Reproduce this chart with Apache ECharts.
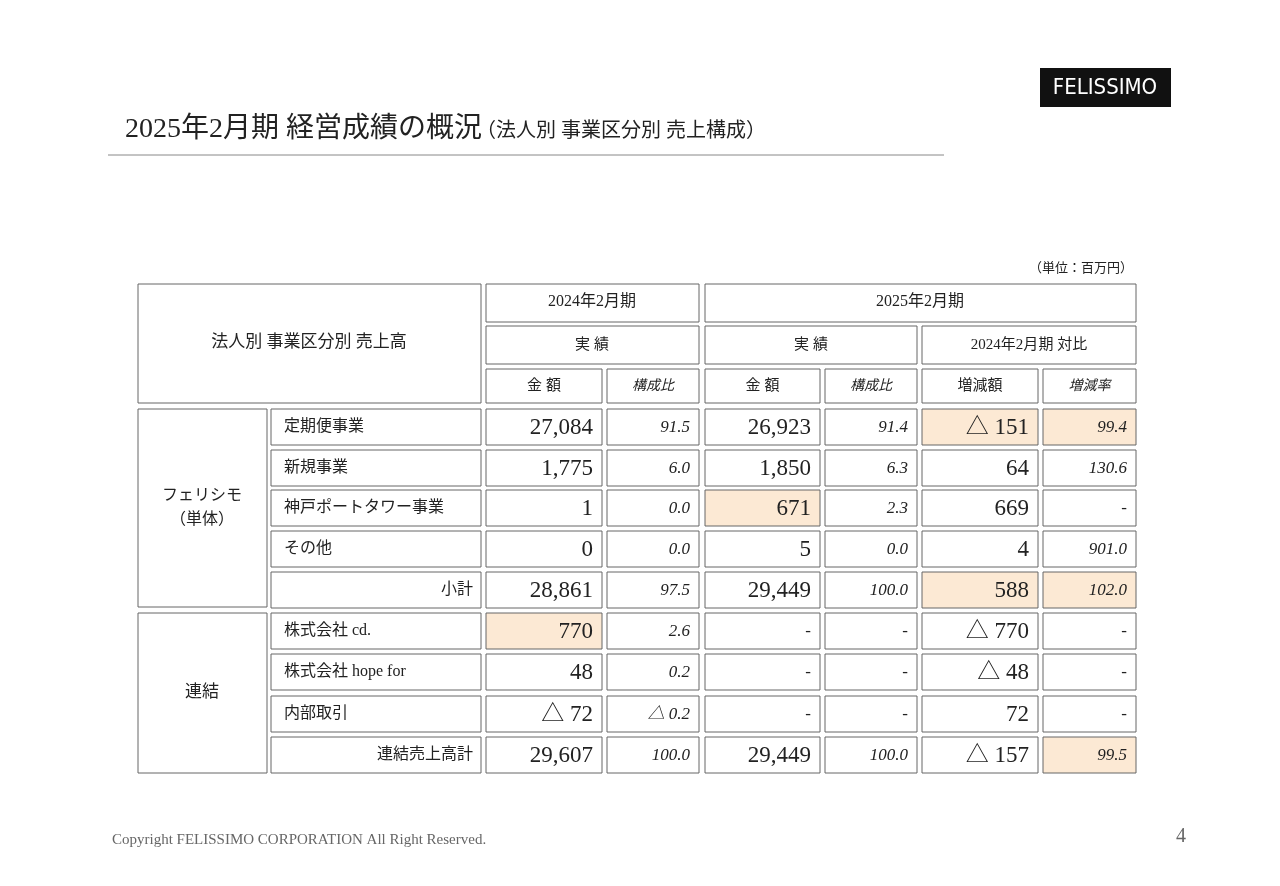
<!DOCTYPE html>
<html lang="ja">
<head>
<meta charset="UTF-8">
<title>経営成績の概況</title>
<script src="https://cdn.jsdelivr.net/npm/echarts@6/dist/echarts.min.js"></script>
<style>html,body{margin:0;padding:0;background:#fff}#main{width:1280px;height:886px}</style>
</head>
<body>
<div id="main"></div>
<script>
// データ
var items = ['定期便事業', '新規事業', '神戸ポートタワー事業', 'その他', '小計', '株式会社 cd.', '株式会社 hope for', '内部取引', '連結売上高計'];
var amt2024 = ['27,084', '1,775', '1', '0', '28,861', '770', '48', '△ 72', '29,607'];
var ratio2024 = ['91.5', '6.0', '0.0', '0.0', '97.5', '2.6', '0.2', '△ 0.2', '100.0'];
var amt2025 = ['26,923', '1,850', '671', '5', '29,449', '-', '-', '-', '29,449'];
var ratio2025 = ['91.4', '6.3', '2.3', '0.0', '100.0', '-', '-', '-', '100.0'];
var diffs = ['△ 151', '64', '669', '4', '588', '△ 770', '△ 48', '72', '△ 157'];
var rates = ['99.4', '130.6', '-', '901.0', '102.0', '-', '-', '-', '99.5'];
// 強調セル [行, 列]
var marked = [[0, 4], [0, 5], [2, 2], [4, 4], [4, 5], [5, 0], [8, 5]];

var serif = '"Liberation Serif","Noto Sans CJK JP",serif';
var cols = [[486, 602], [607, 699], [705, 820], [825, 917], [922, 1038], [1043, 1136]];
var rowTop = [409, 450, 490, 531, 572, 613, 654, 696, 737];
var rowH = 36;
var stroke = '#666', fillMark = '#fce9d4';
var g = [];

function box(x1, y1, x2, y2, fill) {
  g.push({type: 'rect', shape: {x: x1, y: y1, width: x2 - x1, height: y2 - y1},
    style: {fill: fill || '#fff', stroke: stroke, lineWidth: 1}});
}
function txt(x, y, s, size, align, opt) {
  opt = opt || {};
  g.push({type: 'text', x: x, y: y, style: {text: s, fontSize: size, fontFamily: serif,
    fill: opt.color || '#222', align: align || 'center', verticalAlign: 'middle',
    fontStyle: opt.italic ? 'italic' : 'normal', lineHeight: opt.lh}});
}

// タイトル
txt(125, 130, '2025年2月期 経営成績の概況', 28, 'left');
txt(476, 132, '（法人別 事業区分別 売上構成）', 20, 'left');
g.push({type: 'line', shape: {x1: 108, y1: 155, x2: 944, y2: 155}, style: {stroke: '#888', lineWidth: 1}});
g.push({type: 'rect', shape: {x: 1040, y: 68, width: 131, height: 39}, style: {fill: '#111'}});
g.push({type: 'text', x: 1105, y: 88, style: {text: 'FELISSIMO', fontSize: 22, fontFamily: '"DejaVu Sans Condensed",sans-serif', fill: '#fff', align: 'center', verticalAlign: 'middle'}});
txt(1133, 269, '（単位：百万円）', 13, 'right');

// ヘッダー
box(138, 284, 481, 403); txt(309, 343, '法人別 事業区分別 売上高', 17);
box(486, 284, 699, 322); txt(592, 302, '2024年2月期', 16);
box(705, 284, 1136, 322); txt(920, 302, '2025年2月期', 16);
box(486, 326, 699, 364); txt(592, 345, '実 績', 15);
box(705, 326, 917, 364); txt(811, 345, '実 績', 15);
box(922, 326, 1136, 364); txt(1029, 345, '2024年2月期 対比', 15);
var sub = ['金 額', '構成比', '金 額', '構成比', '増減額', '増減率'];
cols.forEach(function (c, i) {
  box(c[0], 369, c[1], 403);
  txt((c[0] + c[1]) / 2, 386, sub[i], i % 2 && i !== 4 ? 14 : 15, 'center', {italic: i === 1 || i === 3 || i === 5});
});

// グループ
box(138, 409, 267, 607); txt(202, 508, 'フェリシモ\n（単体）', 16, 'center', {lh: 24});
box(138, 613, 267, 773); txt(202, 693, '連結', 17);

// データ行
var colData = [amt2024, ratio2024, amt2025, ratio2025, diffs, rates];
items.forEach(function (name, r) {
  var y = rowTop[r], cy = y + rowH / 2;
  box(271, y, 481, y + rowH);
  if (r === 4 || r === 8) txt(473, cy, name, 16, 'right');
  else txt(284, cy, name, 16, 'left');
  colData.forEach(function (arr, c) {
    var hi = marked.some(function (m) { return m[0] === r && m[1] === c; });
    var cc = cols[c];
    box(cc[0], y, cc[1], y + rowH, hi ? fillMark : '#fff');
    var even = c % 2 === 0;
    var size = even ? (arr[r] === '-' ? 17 : 23) : 17;
    txt(cc[1] - 9, cy + 1, arr[r], size, 'right', {italic: !even});
  });
});

// フッター
txt(112, 840, 'Copyright FELISSIMO CORPORATION All Right Reserved.', 15, 'left', {color: '#666'});
txt(1186, 837, '4', 20, 'right', {color: '#666'});

var chart = echarts.init(document.getElementById('main'));
chart.setOption({animation: false, graphic: g});
</script>
</body>
</html>
